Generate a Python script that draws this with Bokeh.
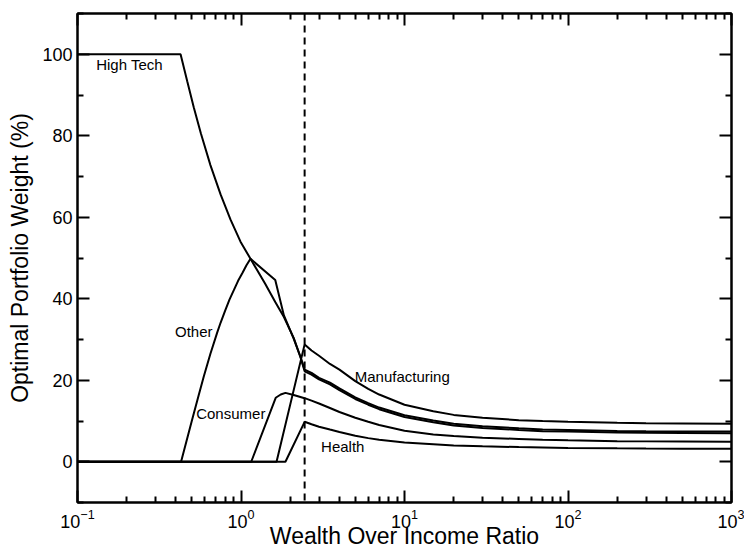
from bokeh.plotting import figure
from bokeh.models import LinearAxis, FixedTicker, Span, Range1d, ColumnDataSource
from bokeh.core.properties import value
from bokeh.embed import file_html
from bokeh.resources import INLINE

# ---- data ----
high_tech_x = [0.1, 0.427, 0.469, 0.514, 0.568, 0.65, 0.75, 0.863, 0.993, 1.143, 1.4, 1.62, 1.83,
               2.1, 2.31, 2.45, 2.7, 3, 3.5, 4, 5, 6, 7, 10, 15, 20, 30, 50, 70, 100, 200, 300,
               500, 1000]
high_tech_y = [100, 100, 93.4, 87.0, 80.6, 72.8, 65.6, 59.4, 54.0, 49.8, 43.8, 39.2, 35.5,
               30.4, 25.7, 22.6, 21.8, 20.6, 19.4, 18.0, 15.8, 14.4, 13.3, 11.4, 10.1, 9.3, 8.7,
               8.2, 7.9, 7.8, 7.55, 7.5, 7.45, 7.4]

other_x = [0.1, 0.43, 0.5, 0.55, 0.592, 0.65, 0.715, 0.75, 0.8, 0.85, 0.904, 0.96, 1.02, 1.08,
           1.143, 1.62, 1.83, 2.1, 2.31, 2.45, 2.7, 3, 3.5, 4, 5, 6, 7, 10, 15, 20, 30, 50, 70,
           100, 200, 300, 500, 1000]
other_y = [0, 0, 10.0, 16.2, 20.9, 26.5, 31.7, 34.1, 37.1, 39.8, 42.1, 44.4, 46.3, 48.2,
           49.8, 44.6, 35.9, 30.2, 25.7, 22.2, 21.4, 20.2, 19.0, 17.6, 15.4, 14.0, 12.9, 11.0,
           9.7, 8.9, 8.3, 7.8, 7.5, 7.4, 7.15, 7.1, 7.05, 7.0]

consumer_x = [0.1, 1.155, 1.63, 1.75, 1.87, 2.1, 2.45, 2.7, 3, 3.5, 4, 5, 6, 7, 10, 15, 20,
              30, 50, 70, 100, 200, 300, 500, 1000]
consumer_y = [0, 0, 15.7, 16.5, 16.9, 16.4, 15.6, 15.0, 14.3, 13.2, 12.2, 10.8, 9.8, 9.0,
              7.6, 6.7, 6.3, 5.9, 5.6, 5.4, 5.25, 5.05, 5.0, 4.95, 4.9]

manufacturing_x = [0.1, 1.65, 2.45, 2.7, 3, 3.5, 4, 5, 6, 7, 10, 15, 20, 30, 50, 70, 100,
                   200, 300, 500, 1000]
manufacturing_y = [0, 0, 28.8, 27.3, 26.0, 24.0, 22.6, 19.8, 17.9, 16.5, 14.0, 12.4, 11.5,
                   10.8, 10.2, 10.0, 9.8, 9.55, 9.45, 9.4, 9.3]

health_x = [0.1, 1.87, 2.45, 2.7, 3, 3.5, 4, 5, 6, 7, 10, 15, 20, 30, 50, 70, 100, 200, 300,
            500, 1000]
health_y = [0, 0, 9.8, 9.2, 8.6, 7.9, 7.3, 6.4, 5.8, 5.4, 4.7, 4.3, 4.0, 3.8, 3.6, 3.5, 3.4,
            3.3, 3.25, 3.22, 3.2]

vline_x = 2.45

label_text = ["High Tech", "Other", "Consumer", "Manufacturing", "Health"]
label_x = [0.208, 0.514, 0.866, 9.69, 4.19]
label_y = [97.6, 32.0, 11.8, 20.8, 3.7]

x_major = [0.1, 1, 10, 100, 1000]
x_minor = [m * d for d in [0.1, 1, 10, 100] for m in range(2, 10)]
y_major = [0, 20, 40, 60, 80, 100]
y_minor = [-10, 10, 30, 50, 70, 90, 110]

FONT = "Liberation Sans"

p = figure(width=744, height=556, x_axis_type="log",
           x_range=Range1d(0.1, 1000), y_range=Range1d(-10, 110),
           output_backend="svg", toolbar_location=None,
           min_border_left=77, min_border_right=13, min_border_top=13, min_border_bottom=54,
           x_axis_label="Wealth Over Income Ratio",
           y_axis_label="Optimal Portfolio Weight (%)")
p.grid.visible = False
p.outline_line_color = "black"
p.outline_line_width = 2
p.background_fill_color = "white"
p.border_fill_color = "white"

for xs, ys in [(high_tech_x, high_tech_y), (other_x, other_y), (consumer_x, consumer_y),
               (manufacturing_x, manufacturing_y), (health_x, health_y)]:
    p.line(xs, ys, line_color="black", line_width=2)

p.add_layout(Span(location=vline_x, dimension="height", line_color="black",
                  line_width=2, line_dash="7 5"))

src = ColumnDataSource(dict(x=label_x, y=label_y, t=label_text))
p.text(x="x", y="y", text="t", source=src, text_font=value(FONT),
       text_font_size=value("15px"), text_align="center", text_baseline="middle",
       text_color="black")

def style(ax, labels=True):
    ax.axis_line_width = 2
    ax.axis_line_color = "black"
    ax.major_tick_in = 12
    ax.major_tick_out = 0
    ax.minor_tick_in = 6
    ax.minor_tick_out = 0
    ax.major_tick_line_width = 2
    ax.minor_tick_line_width = 2
    ax.major_tick_line_color = "black"
    ax.minor_tick_line_color = "black"
    ax.major_label_text_font = FONT
    ax.major_label_text_color = "black"
    ax.axis_label_text_font = FONT
    ax.axis_label_text_font_style = "normal"
    ax.axis_label_text_color = "black"
    if not labels:
        ax.major_label_text_font_size = "1px"
        ax.major_label_text_color = None
        ax.major_label_standoff = 0

xa = p.xaxis[0]
xa.ticker = FixedTicker(ticks=x_major, minor_ticks=x_minor)
style(xa)
xa.major_label_text_font_size = "18px"
xa.axis_label_text_font_size = "23px"
xa.major_label_standoff = 6
xa.axis_label_standoff = -8

ya = p.yaxis[0]
ya.ticker = FixedTicker(ticks=y_major, minor_ticks=y_minor)
style(ya)
ya.major_label_text_font_size = "18px"
ya.axis_label_text_font_size = "23px"
ya.major_label_standoff = 5
ya.axis_label_standoff = 6

top = LinearAxis(ticker=FixedTicker(ticks=x_major, minor_ticks=x_minor))
style(top, labels=False)
p.add_layout(top, "above")

right = LinearAxis(ticker=FixedTicker(ticks=y_major, minor_ticks=y_minor))
style(right, labels=False)
p.add_layout(right, "right")

open("out.html", "w").write(file_html(p, INLINE))
